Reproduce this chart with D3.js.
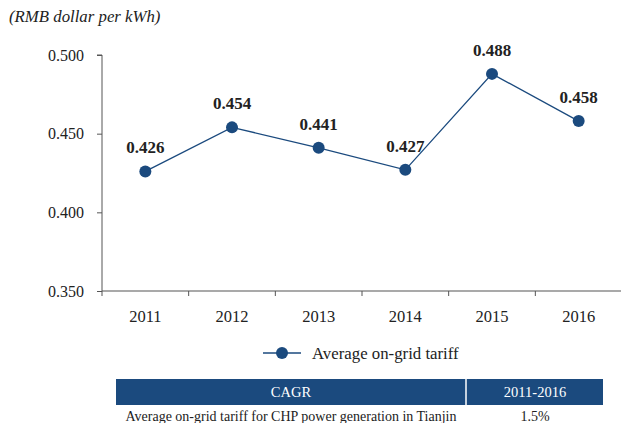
<!DOCTYPE html>
<html>
<head>
<meta charset="utf-8">
<script src="https://cdn.jsdelivr.net/npm/d3@7/dist/d3.min.js"></script>
<style>
  html, body { margin: 0; padding: 0; background: #fff; }
  svg { display: block; font-family: "Liberation Serif", "Times New Roman", serif; }
</style>
</head>
<body>
<svg id="chart" width="621" height="423"></svg>
<script>
// Average on-grid tariff, RMB per kWh
const years = ["2011", "2012", "2013", "2014", "2015", "2016"];
const tariff = [0.426, 0.454, 0.441, 0.427, 0.488, 0.458];
const yTicks = [0.350, 0.400, 0.450, 0.500];
const unitLabel = "(RMB dollar per kWh)";
const seriesName = "Average on-grid tariff";
const tableHeader = ["CAGR", "2011-2016"];
const tableRow = ["Average on-grid tariff for CHP power generation in Tianjin", "1.5%"];

const navy = "#1b4a7e";
const axisGrey = "#555";
const serif = "Liberation Serif, Times New Roman, serif";

const svg = d3.select("#chart");

const x = d3.scaleBand().domain(years).range([102, 622]);
const y = d3.scaleLinear().domain([0.35, 0.5]).range([291, 55]);

// unit caption
svg.append("text")
  .attr("x", 9).attr("y", 22)
  .attr("font-size", 16.8).attr("font-style", "italic")
  .attr("fill", "#222")
  .text(unitLabel);

// y axis
const yAxis = svg.append("g")
  .attr("transform", "translate(102,0)")
  .call(d3.axisLeft(y).tickValues(yTicks).tickFormat(d3.format(".3f")).tickSize(5).tickPadding(13));
yAxis.select(".domain").attr("stroke", axisGrey).attr("d", `M-5,${y(0.5)}H0V${y(0.35)}`);
yAxis.selectAll(".tick line").attr("stroke", axisGrey);
yAxis.selectAll(".tick text")
  .attr("font-family", serif)
  .attr("font-size", 16).attr("fill", "#222");

// x axis with ticks on band boundaries
const xg = svg.append("g").attr("transform", `translate(0,${y(0.35)})`);
xg.append("line")
  .attr("x1", 102).attr("x2", 621)
  .attr("stroke", axisGrey).attr("stroke-width", 1.2);
xg.selectAll("line.bt")
  .data(years)
  .join("line")
  .attr("class", "bt")
  .attr("x1", d => x(d)).attr("x2", d => x(d))
  .attr("y1", 0).attr("y2", 5)
  .attr("stroke", axisGrey);
xg.selectAll("text")
  .data(years)
  .join("text")
  .attr("x", d => x(d) + x.bandwidth() / 2)
  .attr("y", 31)
  .attr("text-anchor", "middle")
  .attr("font-size", 16.5).attr("fill", "#222")
  .text(d => d);

// series line
const pts = years.map((yr, i) => ({ yr, v: tariff[i] }));
const line = d3.line()
  .x(d => x(d.yr) + x.bandwidth() / 2)
  .y(d => y(d.v));

svg.append("path")
  .datum(pts)
  .attr("d", line)
  .attr("fill", "none")
  .attr("stroke", navy)
  .attr("stroke-width", 1.3);

svg.selectAll("circle.pt")
  .data(pts)
  .join("circle")
  .attr("class", "pt")
  .attr("cx", d => x(d.yr) + x.bandwidth() / 2)
  .attr("cy", d => y(d.v))
  .attr("r", 6)
  .attr("fill", navy);

svg.selectAll("text.val")
  .data(pts)
  .join("text")
  .attr("class", "val")
  .attr("x", d => x(d.yr) + x.bandwidth() / 2)
  .attr("y", d => y(d.v) - 18)
  .attr("text-anchor", "middle")
  .attr("font-size", 17).attr("font-weight", "bold")
  .attr("fill", "#222")
  .text(d => d3.format(".3f")(d.v));

// legend
const lg = svg.append("g").attr("transform", "translate(0,353)");
lg.append("line").attr("x1", 263).attr("x2", 301).attr("y1", 0).attr("y2", 0)
  .attr("stroke", navy).attr("stroke-width", 1.5);
lg.append("circle").attr("cx", 282).attr("cy", 0).attr("r", 6).attr("fill", navy);
lg.append("text").attr("x", 312).attr("y", 5.5)
  .attr("font-size", 16.8).attr("fill", "#222")
  .text(seriesName);

// CAGR table
const tbl = svg.append("g");
tbl.append("rect")
  .attr("x", 116).attr("y", 379).attr("width", 487).attr("height", 26)
  .attr("fill", navy);
tbl.append("line")
  .attr("x1", 466).attr("x2", 466).attr("y1", 379).attr("y2", 405)
  .attr("stroke", "#fff").attr("stroke-width", 1.5);
const colCenters = [291, 535];
tbl.selectAll("text.hd")
  .data(tableHeader)
  .join("text")
  .attr("class", "hd")
  .attr("x", (d, i) => colCenters[i])
  .attr("y", 397)
  .attr("text-anchor", "middle")
  .attr("font-size", 14.5).attr("fill", "#fff")
  .text(d => d);
tbl.selectAll("text.rw")
  .data(tableRow)
  .join("text")
  .attr("class", "rw")
  .attr("x", (d, i) => colCenters[i])
  .attr("y", 421)
  .attr("text-anchor", "middle")
  .attr("font-size", 14).attr("fill", "#222")
  .text(d => d);
</script>
</body>
</html>
